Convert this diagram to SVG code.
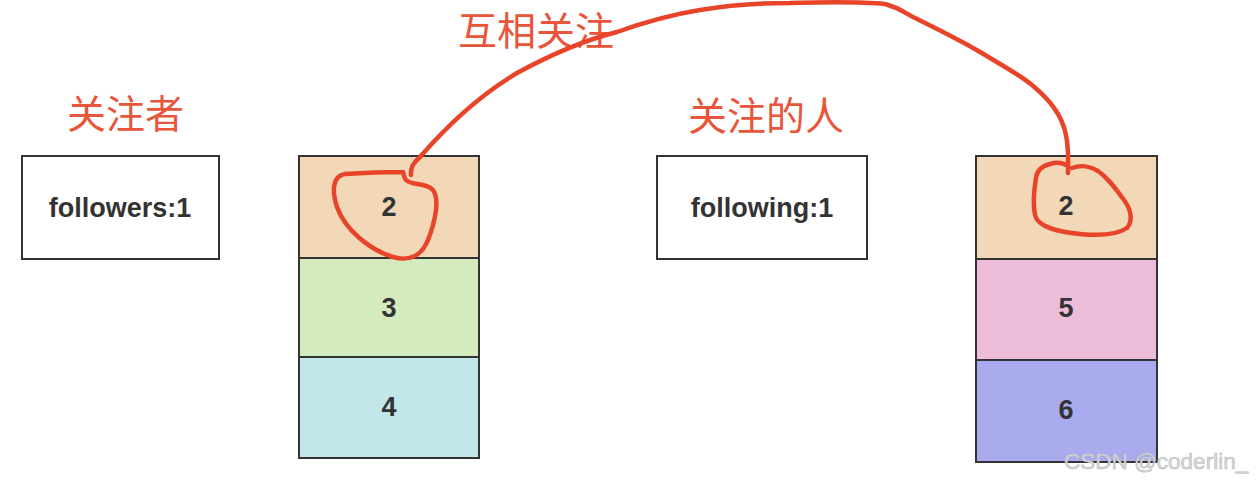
<svg xmlns="http://www.w3.org/2000/svg" width="1256" height="480" viewBox="0 0 1256 480">
<style>
.box{stroke:#333;stroke-width:2}
.num{font-family:"Liberation Sans",Arial,sans-serif;font-weight:bold;font-size:27px;fill:#333;text-anchor:middle}
.lbl{font-family:"Noto Sans CJK SC","Noto Sans",sans-serif;font-size:39px;fill:#e8553a}
.ink{fill:none;stroke:#e8442a;stroke-width:4.5;stroke-linecap:round;stroke-linejoin:round}
.wm{font-family:"Liberation Sans",Arial,sans-serif;font-size:22.5px;fill:#d8d8d8;stroke:#bdbdbd;stroke-width:0.6}
</style>
<rect width="1256" height="480" fill="#fff"/>
<g id="label-followers"><text class="lbl" x="67" y="128">关注者</text></g>
<g id="label-mutual"><text class="lbl" x="458" y="45">互相关注</text></g>
<g id="label-following"><text class="lbl" x="688" y="130">关注的人</text></g>
<g id="followers"><rect class="box" x="22" y="156" width="197" height="103" fill="#fff"/><text class="num" x="120" y="217">followers:1</text></g>
<g id="left-2"><rect class="box" x="299" y="156" width="180" height="102" fill="#f3d8b8"/><text class="num" x="389" y="216">2</text></g>
<g id="left-3"><rect class="box" x="299" y="258" width="180" height="99" fill="#d3ebbd"/><text class="num" x="389" y="317">3</text></g>
<g id="left-4"><rect class="box" x="299" y="357" width="180" height="101" fill="#c3e6ea"/><text class="num" x="389" y="416">4</text></g>
<g id="following"><rect class="box" x="657" y="156" width="210" height="103" fill="#fff"/><text class="num" x="762" y="217">following:1</text></g>
<g id="right-2"><rect class="box" x="976" y="156" width="181" height="103" fill="#f3d8b8"/><text class="num" x="1066" y="215">2</text></g>
<g id="right-5"><rect class="box" x="976" y="259" width="181" height="101" fill="#ecbcd9"/><text class="num" x="1066" y="317">5</text></g>
<g id="right-6"><rect class="box" x="976" y="360" width="181" height="102" fill="#a9abee"/><text class="num" x="1066" y="419">6</text></g>
<g id="connectors">
<path class="ink" d="M411,175 C410,168 414,162 420,157 C445,128 480,95 517,73 C550,55 585,40 617,32 C645,22 675,14 700,10 C730,5 760,3 790,3 C830,2 865,2 885,4 C900,8 905,13 913,17 C935,28 960,40 980,52 C1005,67 1020,75 1032,85 C1050,100 1062,115 1066,135 C1069,150 1068,160 1068,173"/>
<path class="ink" d="M403,172 C385,172 360,173 345,174 C332,176 332,192 337,207 C345,230 370,250 393,257 C410,262 422,255 428,240 C435,222 440,200 433,190 C425,182 412,186 406,180 C404,178 404,175 403,172"/>
<path class="ink" d="M1068,166 C1062,162 1056,162 1050,164 C1042,166 1037,170 1036,178 C1034,190 1033,205 1035,215 C1038,228 1060,232 1080,234 C1100,236 1118,234 1127,228 C1134,220 1130,208 1124,200 C1115,188 1108,178 1098,171 C1090,166 1080,165 1072,168"/>
</g>
<text class="wm" x="1064" y="469">CSDN @coderlin_</text>
</svg>
